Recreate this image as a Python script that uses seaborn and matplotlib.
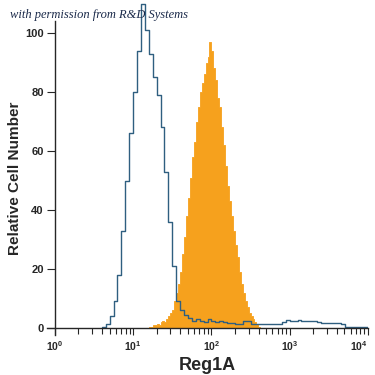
import numpy as np
import seaborn as sns
import matplotlib
matplotlib.use("Agg")
import matplotlib.pyplot as plt
from matplotlib.ticker import FixedLocator, FixedFormatter, NullFormatter

# isotype control, bins of 0.05 decade starting at 10^0.60
ctrl_start = 0.60
ctrl_width = 0.05
ctrl_counts = [0.5, 1.5, 4, 9, 18, 33, 50, 66, 80, 94,
               110, 101, 93, 85, 79, 68, 53, 36, 21, 9,
               6, 4.5, 3.5, 2.5, 3, 2.5, 2, 3, 2.5, 2,
               2.5, 2, 1.7, 1.7, 1.5, 1.5, 2.5, 2.5, 1.5, 1.5,
               1.5, 1.2, 1.5, 1.2, 1.5, 1.5, 2, 2.7, 2.5, 2.5,
               2.7, 2.5, 2.5, 2.5, 2.5, 2.2, 1.8, 1.7, 1.7, 1.7,
               1.7, 1.5, 0.5, 0.5, 0.4, 0.4, 0.4, 0.4]

# Reg1A stained cells, bins of 0.025 decade starting at 10^1.20
reg_start = 1.20
reg_width = 0.025
reg_counts = [0.5, 0.5, 1, 1, 1.5, 1, 2, 2.5, 2, 3,
              4, 5, 6, 9, 12, 15, 19, 25, 31, 38,
              44, 51, 58, 63, 70, 75, 80, 83, 86, 90,
              92, 97, 94, 88, 84, 78, 75, 68, 62, 55,
              48, 43, 38, 33, 28, 24, 19, 15, 12, 9,
              7, 5, 4, 3, 2, 1.5, 0.5]

x_ticks = [1, 10, 100, 1000, 10000]
x_labels = ["$10^{0}$", "$10^{1}$", "$10^{2}$", "$10^{3}$", "$10^{4}$"]
y_ticks = [0, 20, 40, 60, 80, 100]

sns.set_style("ticks")
plt.rcParams["font.family"] = ["Liberation Sans", "DejaVu Sans"]
plt.rcParams["mathtext.default"] = "regular"

fig = plt.figure(figsize=(3.75, 3.75), dpi=100)
ax = fig.add_axes([47 / 375, 0.1017, 321 / 375, 0.8983])

reg_centers = 10 ** (reg_start + reg_width * (np.arange(len(reg_counts)) + 0.5))
sns.histplot(x=reg_centers, weights=reg_counts, log_scale=True,
             binrange=(reg_start, reg_start + reg_width * len(reg_counts)),
             binwidth=reg_width, element="step", fill=True,
             color="#f6a11d", alpha=1, edgecolor="#f6a11d", linewidth=0.6, ax=ax)

ctrl_centers = 10 ** (ctrl_start + ctrl_width * (np.arange(len(ctrl_counts)) + 0.5))
sns.histplot(x=ctrl_centers, weights=ctrl_counts, log_scale=True,
             binrange=(ctrl_start, ctrl_start + ctrl_width * len(ctrl_counts)),
             binwidth=ctrl_width, element="step", fill=False,
             color="#2f5f80", linewidth=1.0, ax=ax)

ax.set_xlim(10 ** -0.1, 10 ** 4.0)
ax.set_ylim(-3, 111.2)

for s in ["top", "right"]:
    ax.spines[s].set_visible(False)
ax.spines["left"].set_position(("data", 1))
ax.spines["bottom"].set_position(("data", 0))
ax.spines["left"].set_bounds(-2.5, 104)
ax.spines["bottom"].set_bounds(10 ** -0.1, 10 ** 4)
ax.spines["left"].set_linewidth(1.0)
ax.spines["bottom"].set_linewidth(1.0)

ax.xaxis.set_major_locator(FixedLocator(x_ticks))
ax.xaxis.set_major_formatter(FixedFormatter(x_labels))
minor = [m * d for d in [1, 10, 100, 1000] for m in range(2, 10)]
ax.xaxis.set_minor_locator(FixedLocator(minor))
ax.xaxis.set_minor_formatter(NullFormatter())
ax.set_yticks(y_ticks)
ax.tick_params(axis="x", which="major", length=5, width=0.8, labelsize=7.5, pad=3)
ax.tick_params(axis="x", which="minor", length=4, width=0.8)
ax.tick_params(axis="y", length=6, width=0.8, labelsize=8, pad=2)
for lab in ax.get_xticklabels() + ax.get_yticklabels():
    lab.set_fontweight("bold")
ax.get_xticklabels()[-1].set_horizontalalignment("right")
ax.get_xticklabels()[-1].set_x(10 ** 4.06)

ax.set_xlabel("Reg1A", fontsize=13, fontweight="bold")
ax.xaxis.set_label_coords(0.5, -0.06)
ax.set_ylabel("Relative Cell Number", fontsize=11, fontweight="bold")
ax.yaxis.label.set_va("center")
ax.yaxis.set_label_coords(-0.1, 0.4716)

fig.text(10 / 375, 1 - 18 / 375, "with permission from R&D Systems",
         fontsize=9, style="italic", family="Liberation Serif", color="#1b2a4a")

fig.savefig("out.png", dpi=100)
